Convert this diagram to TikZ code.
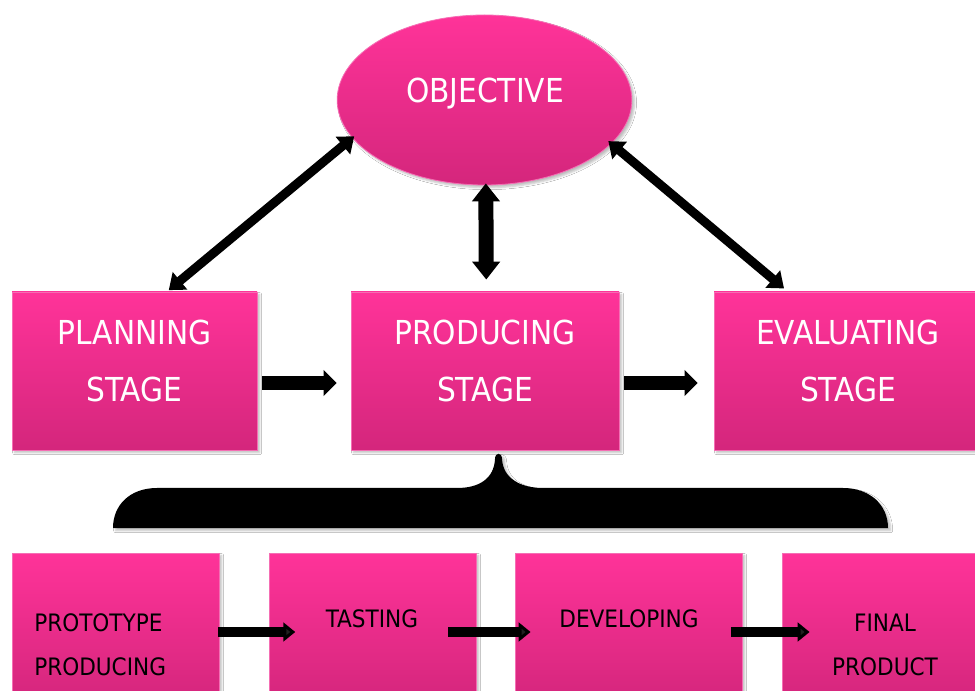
\documentclass[tikz,border=0pt]{standalone}
\usepackage{fontspec}
\setmainfont{DejaVu Sans Condensed}
\usetikzlibrary{arrows.meta,shapes.geometric,shadows.blur}

\definecolor{pinktop}{RGB}{255,51,153}
\definecolor{pinkbot}{RGB}{212,38,124}
\definecolor{pinkedge}{RGB}{245,110,180}

\tikzset{
  softshadow/.style={blur shadow={shadow xshift=2pt, shadow yshift=-2pt,
      shadow blur radius=1.5pt, shadow opacity=25}},
  pinkfill/.style={top color=pinktop, bottom color=pinkbot, draw=pinkedge,
      line width=0.6pt, softshadow},
  stagebox/.style={rectangle, inner sep=0pt, pinkfill, minimum height=118.5pt},
  stepbox/.style={rectangle, inner sep=0pt, pinkfill, minimum height=112.5pt},
  goal/.style={ellipse, inner sep=0pt, pinkfill, minimum width=221pt, minimum height=127.5pt},
  bigtext/.style={anchor=base, inner sep=0pt, text=white, font=\fontsize{24.75}{30}\selectfont},
  smalltext/.style={anchor=base, inner sep=0pt, text=black, font=\fontsize{18}{22}\selectfont},
  flowarrow/.style={line width=10.5pt, -{Triangle[length=9.75pt,width=19pt]}},
  linkarrow/.style={line width=6.75pt, {Triangle[length=11pt,width=16.5pt]}-{Triangle[length=11pt,width=16.5pt]}},
  uparrow/.style={line width=11.25pt, {Triangle[length=13.5pt,width=20.25pt]}-{Triangle[length=13.5pt,width=20.25pt]}},
  steparrow/.style={line width=7.5pt, -{Triangle[length=9pt,width=14pt]}},
}

\begin{document}
\begin{tikzpicture}[x=0.75pt,y=-0.75pt]
  \clip (0,0) rectangle (975,691);
  \fill[white] (0,0) rectangle (975,691);

  % objective and the three stages
  \node[goal] (obj) at (484.5,100) {};
  \node[bigtext] (objt) at (485,103) {OBJECTIVE};

  \node[stagebox, minimum width=183.75pt] (plan) at (134.5,371) {};
  \node[stagebox, minimum width=201pt] (prod) at (485,371) {};
  \node[stagebox, minimum width=201pt] (eval) at (848,371) {};

  \node[bigtext] (planA) at (134.5,345) {PLANNING};
  \node[bigtext] (planB) at (134.5,402) {STAGE};
  \node[bigtext] (prodA) at (485,345) {PRODUCING};
  \node[bigtext] (prodB) at (485,402) {STAGE};
  \node[bigtext] (evalA) at (848,345) {EVALUATING};
  \node[bigtext] (evalB) at (848,402) {STAGE};

  % links between the objective and the stages
  \draw[linkarrow, shorten <=-3pt, shorten >=-2pt]
    ([xshift=28pt,yshift=3pt]plan.north) -- (obj.196);
  \draw[linkarrow, shorten <=-1pt, shorten >=-3pt]
    ([xshift=-48.75pt,yshift=3pt]eval.north) -- (obj.341);
  \draw[uparrow, shorten <=-1.5pt, shorten >=9pt]
    ([xshift=1pt]obj.south) -- ([xshift=1pt]prod.north);

  % stage sequence
  \draw[flowarrow, shorten <=3.75pt, shorten >=10.5pt]
    ([yshift=-9pt]plan.east) -- ([yshift=-9pt]prod.west);
  \draw[flowarrow, shorten <=3.75pt, shorten >=12pt]
    ([yshift=-9pt]prod.east) -- ([yshift=-9pt]eval.west);

  % brace grouping the production steps
  \fill[black, blur shadow={shadow xshift=2pt, shadow yshift=-2pt,
      shadow blur radius=1.5pt, shadow opacity=25}]
    (113,528) -- (888,528)
    .. controls (888,505) and (870,488) .. (843,488)
    -- (543,488)
    .. controls (520,488) and (503,478) .. (502,459)
    .. controls (502,452) and (495,452) .. (495,459)
    .. controls (494,478) and (480,488) .. (457,488)
    -- (157,488)
    .. controls (130,488) and (113,505) .. (113,528) -- cycle;

  % production steps
  \node[stepbox, minimum width=155.25pt] (s1) at (115.5,628) {};
  \node[stepbox, minimum width=155.25pt] (s2) at (372.5,628) {};
  \node[stepbox, minimum width=170.25pt] (s3) at (628.5,628) {};
  \node[stepbox, minimum width=154.5pt] (s4) at (885,628) {};

  \node[smalltext, anchor=base west] (s1a) at (34,631) {PROTOTYPE};
  \node[smalltext, anchor=base west] (s1b) at (34,675) {PRODUCING};
  \node[smalltext] (s2a) at (372,627) {TASTING};
  \node[smalltext] (s3a) at (629,627) {DEVELOPING};
  \node[smalltext] (s4a) at (885,631) {FINAL};
  \node[smalltext] (s4b) at (885,675) {PRODUCT};

  \draw[steparrow, shorten <=-1pt, shorten >=-20pt]
    ([yshift=-3pt]s1.east) -- ([yshift=-3pt]s2.west);
  \draw[steparrow, shorten <=-21pt, shorten >=-12pt]
    ([yshift=-3pt]s2.east) -- ([yshift=-3pt]s3.west);
  \draw[steparrow, shorten <=-8.25pt, shorten >=-21pt]
    ([yshift=-3pt]s3.east) -- ([yshift=-3pt]s4.west);
\end{tikzpicture}
\end{document}
